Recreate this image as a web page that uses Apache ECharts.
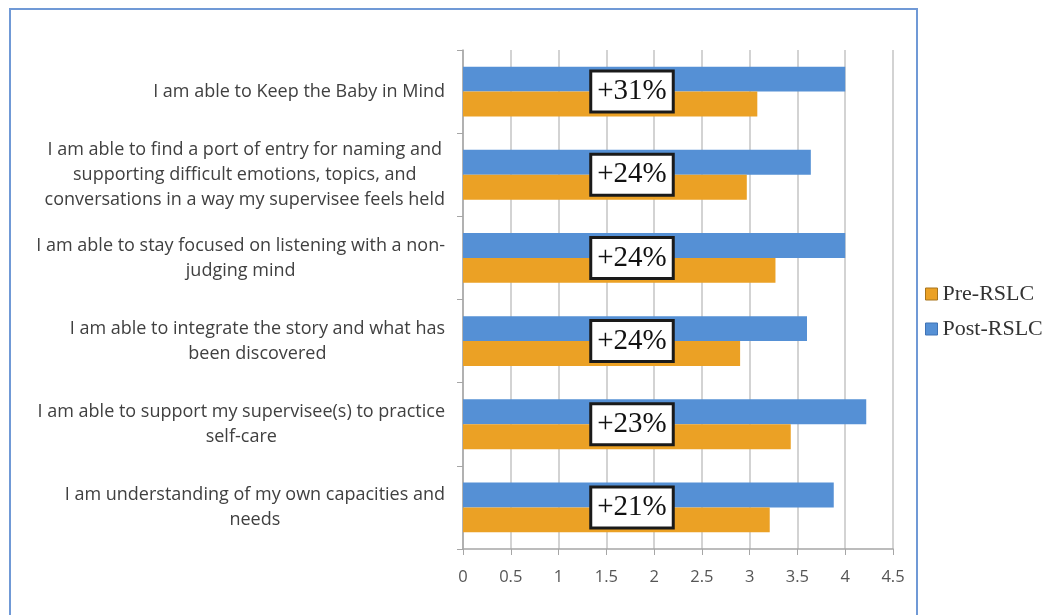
<!DOCTYPE html>
<html>
<head>
<meta charset="utf-8">
<script src="https://cdn.jsdelivr.net/npm/echarts@6/dist/echarts.min.js"></script>
<style>
html,body{margin:0;padding:0;background:#fff;}
#chart{width:1046px;height:615px;}
</style>
</head>
<body>
<div id="chart"></div>
<script>
const categories = [
  "I am able to Keep the Baby in Mind",
  "I am able to find a port of entry for naming and\nsupporting difficult emotions, topics, and\nconversations in a way my supervisee feels held",
  "I am able to stay focused on listening with a non-\njudging mind",
  "I am able to integrate the story and what has\nbeen discovered",
  "I am able to support my supervisee(s) to practice\nself-care",
  "I am understanding of my own capacities and\nneeds"
];
const postValues = [4.0, 3.64, 4.0, 3.6, 4.22, 3.88];
const preValues = [3.08, 2.97, 3.27, 2.9, 3.43, 3.21];
const gains = ["+31%", "+24%", "+24%", "+24%", "+23%", "+21%"];
const seriesNames = ["Pre-RSLC", "Post-RSLC"];

const chart = echarts.init(document.getElementById('chart'));
chart.setOption({
  animation: false,
  backgroundColor: '#fff',
  graphic: [{
    type: 'rect', z: -10,
    shape: { x: 10, y: 9, width: 907, height: 640 },
    style: { fill: 'none', stroke: '#7099d6', lineWidth: 2 }
  }],
  legend: {
    data: [
      { name: seriesNames[0], itemStyle: { borderColor: '#a8741c', borderWidth: 1 } },
      { name: seriesNames[1], itemStyle: { borderColor: '#3f72b5', borderWidth: 1 } }
    ],
    orient: 'vertical',
    left: 920, top: 278,
    itemWidth: 12, itemHeight: 12, itemGap: 13,
    icon: 'rect',
    textStyle: { fontFamily: 'Liberation Serif', fontSize: 22, color: '#333' }
  },
  grid: { left: 463, right: 153, top: 50, bottom: 66, containLabel: false },
  xAxis: {
    type: 'value', min: 0, max: 4.5, interval: 0.5,
    axisLine: { show: true, lineStyle: { color: '#a6a6a6', width: 1.5 } },
    axisTick: { show: true, length: 6, lineStyle: { color: '#a6a6a6' } },
    axisLabel: { color: '#555', fontSize: 16.5, fontFamily: 'Open Sans', margin: 20 },
    splitLine: { show: true, lineStyle: { color: '#c4c4c4', width: 1.5 } }
  },
  yAxis: {
    type: 'category', data: categories, inverse: true,
    axisLine: { show: true, lineStyle: { color: '#a6a6a6', width: 1.5 } },
    axisTick: { show: true, length: 6, lineStyle: { color: '#a6a6a6' } },
    axisLabel: {
      margin: 18, color: '#404040', fontSize: 18, fontFamily: 'Open Sans', lineHeight: 25,
      formatter: v => v.split('\n').map(s => '{c|' + s + '}').join('\n'),
      rich: { c: { align: 'center', fontSize: 18, fontFamily: 'Open Sans', color: '#404040', lineHeight: 25 } }
    }
  },
  series: [
    {
      name: seriesNames[1], type: 'bar', data: postValues,
      barCategoryGap: '40%', barGap: '0%',
      itemStyle: { color: '#5590d5' },
      label: {
        show: true, position: [169, '100%'], align: 'center', verticalAlign: 'middle',
        formatter: p => gains[p.dataIndex],
        fontFamily: 'Liberation Serif', fontSize: 29, color: '#111',
        backgroundColor: '#fff', borderColor: '#1a1a1a', borderWidth: 3,
        padding: [4, 5, 2, 5], lineHeight: 32
      }
    },
    {
      name: seriesNames[0], type: 'bar', data: preValues,
      barCategoryGap: '40%', barGap: '0%',
      itemStyle: { color: '#eba125' }
    }
  ]
});
</script>
</body>
</html>
